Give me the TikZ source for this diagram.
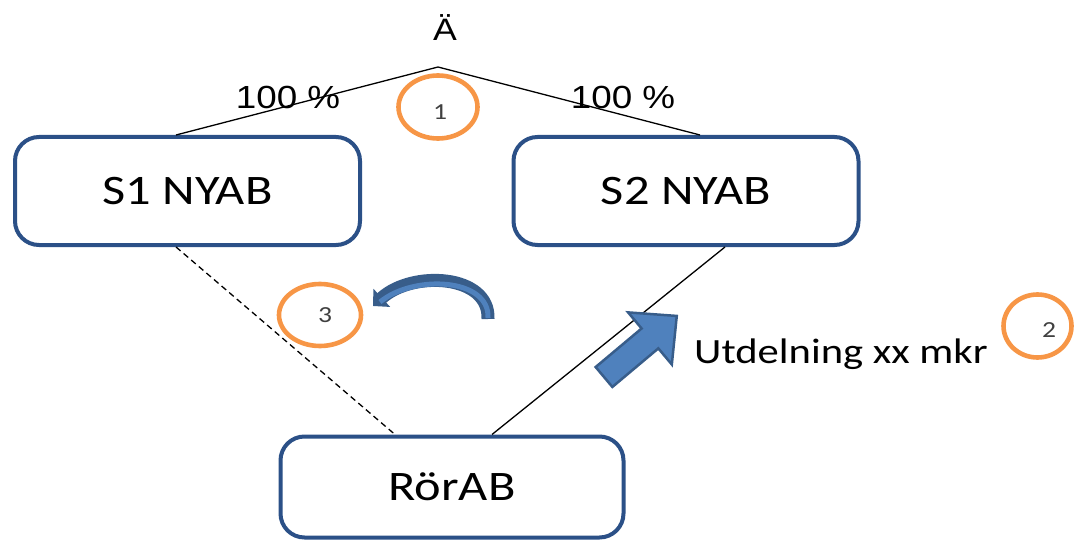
\documentclass[tikz,border=0pt]{standalone}
\usepackage{fontspec}
\setmainfont{Carlito}[FakeStretch=1.2]
\newfontfamily\arialf{Liberation Sans}[FakeStretch=1.15]
\usetikzlibrary{arrows.meta,calc,shapes.geometric}
\definecolor{boxblue}{HTML}{2B5087}
\definecolor{ringorange}{HTML}{F79646}
\definecolor{arrfill}{HTML}{4F81BD}
\definecolor{arrdark}{HTML}{385D8A}
\definecolor{numgrey}{HTML}{404040}
\tikzset{
  entity/.style={draw=boxblue, line width=4pt, rounded corners=24pt, fill=white,
    minimum width=345pt, inner sep=0pt, font=\fontsize{42}{50}\selectfont},
  ring/.style={draw=ringorange, line width=4.6pt, ellipse, inner sep=0pt},
  numtext/.style={text=numgrey, font=\fontsize{23}{27}\selectfont, inner sep=0pt},
  pct/.style={font=\arialf\fontsize{32}{38}\selectfont, inner sep=0pt},
  conn/.style={line width=1.3pt, black},
}
\begin{document}
\begin{tikzpicture}[x=1pt,y=-1pt]
\useasboundingbox (0,0) rectangle (1076,540);
% boxes
\node[entity, minimum height=108pt] (s1) at (187.5,191) {S1 NYAB};
\node[entity, minimum height=108pt] (s2) at (686,191) {S2 NYAB};
\node[entity, minimum height=101pt, minimum width=343pt] (ror) at (452,487) {RörAB};
% top
\coordinate (apex) at (438,67);
\node[font=\arialf\fontsize{31}{36}\selectfont, inner sep=0pt] (ae) at (445,28) {Ä};
\coordinate (s1t) at ($(s1.north)+(-11.5,0)$);
\coordinate (s2t) at ($(s2.north)+(14,0)$);
\coordinate (s1b) at ($(s1.south)+(-11.5,0)$);
\coordinate (s2b) at ($(s2.south)+(39,0)$);
\coordinate (rl) at ($(ror.north)+(-57,0)$);
\coordinate (rr) at ($(ror.north)+(40,0)$);
\draw[conn] (s1t) -- (apex) -- (s2t);
\draw[conn, dashed, dash pattern=on 6pt off 4pt] (s1b) -- (rl);
\draw[conn] (s2b) -- (rr);
\node[pct] (p1) at (288,97) {100 \%};
\node[pct] (p2) at (623,97) {100 \%};
% rings
\node[ring, minimum width=79pt, minimum height=63pt] (c1) at (438,107) {};
\node[numtext] (n1) at (440,112) {1};
\node[ring, minimum width=82pt, minimum height=62pt] (c3) at (320,315) {};
\node[numtext] (n3) at (325,315) {3};
\node[ring, minimum width=68pt, minimum height=63pt] (c2) at (1037.5,326) {};
\node[numtext] (n2) at (1049,330) {2};
% text
\node[anchor=west, inner sep=0pt, font=\fontsize{35.5}{42}\selectfont] (ut) at (694,354) {Utdelning xx mkr};
% curved arrow
\draw[arrdark, line width=13pt, -{Triangle[width=24pt,length=12pt]}]
  (488,319) .. controls (490,274) and (412,270) .. (373,306);
\draw[arrfill, line width=5pt, line cap=butt]
  (488,318) .. controls (490,278) and (414,274) .. (380,302);
% block arrow
\begin{scope}[shift={(604,377)}, rotate=40]
  \filldraw[fill=arrfill, draw=arrdark, line width=2.5pt, line join=miter]
    (0,-13) -- (60,-13) -- (60,-34) -- (95,0) -- (60,34) -- (60,13) -- (0,13) -- cycle;
\end{scope}
\end{tikzpicture}
\end{document}
